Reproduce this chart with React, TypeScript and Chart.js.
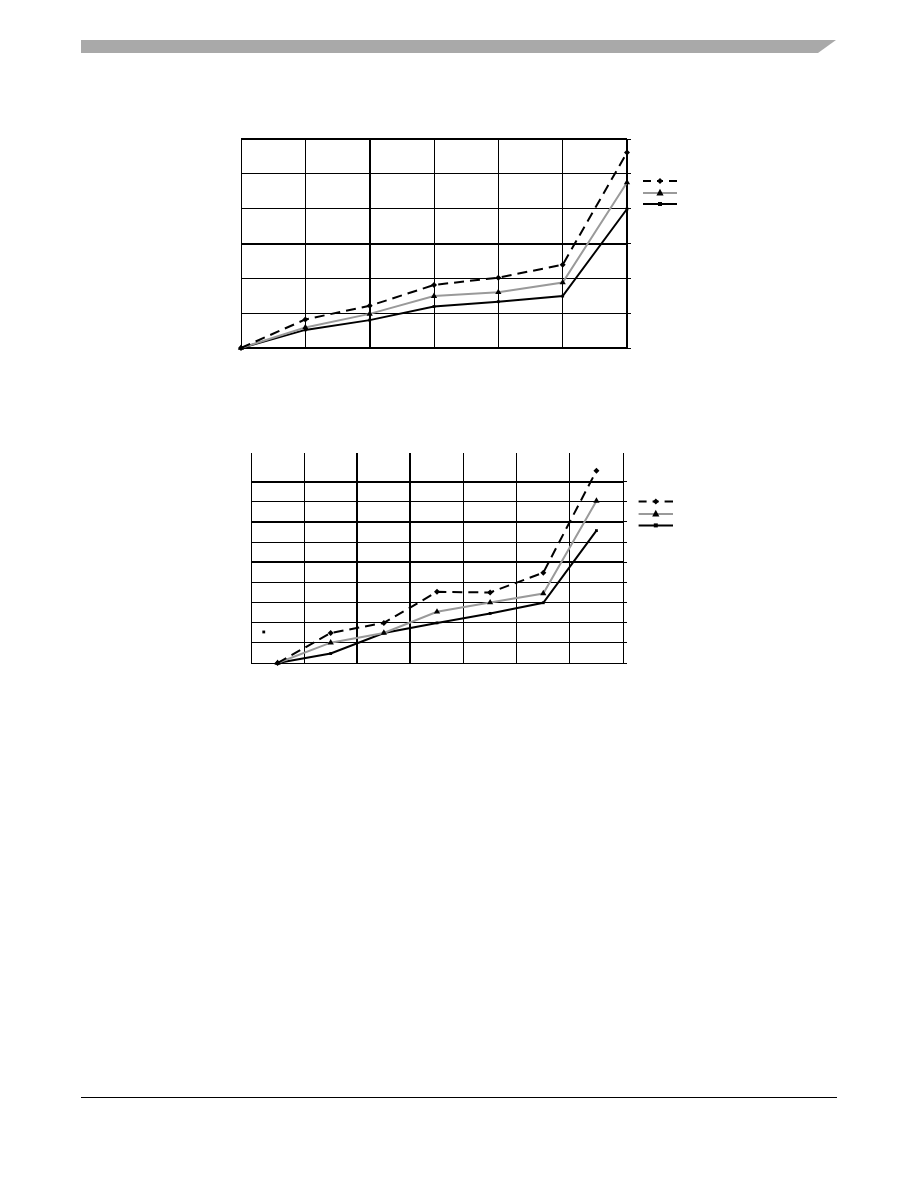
import React, { useEffect, useRef } from "react";
import { Chart, registerables } from "chart.js";

Chart.register(...registerables);

// ---------- Chart 1 data (7 points on grid lines, y in grid units 0..6) ----------
const categories1 = ["0", "1", "2", "3", "4", "5", "6"];
const series1Dashed = [0, 0.82, 1.21, 1.81, 2.02, 2.39, 5.61];
const series1Gray = [0, 0.59, 0.98, 1.49, 1.6, 1.88, 4.75];
const series1Black = [0, 0.52, 0.8, 1.19, 1.33, 1.49, 3.99];
const yMax1 = 6;

// ---------- Chart 2 data (7 points centred in 7 columns, y in grid units) ----------
const categories2 = [0.5, 1.5, 2.5, 3.5, 4.5, 5.5, 6.5];
const series2Dashed = [0, 1.49, 1.99, 3.53, 3.5, 4.48, 9.54];
const series2Gray = [0, 1.01, 1.49, 2.54, 3.0, 3.45, 8.04];
const series2Black = [0, 0.47, 1.49, 1.99, 2.46, 2.99, 6.57];
const strayPointX = [0.24];
const strayPointY = [1.54];
const xMax2 = 7;
const yMax2 = 10.42;

type LegendOpts = { dx1: number; dx2: number; dys: number[] };

function drawMarker(ctx: CanvasRenderingContext2D, style: string, x: number, y: number, r: number) {
  ctx.save();
  ctx.fillStyle = "#000";
  ctx.beginPath();
  if (style === "rectRot") {
    ctx.moveTo(x, y - r);
    ctx.lineTo(x + r, y);
    ctx.lineTo(x, y + r);
    ctx.lineTo(x - r, y);
  } else if (style === "triangle") {
    ctx.moveTo(x, y - r * 1.2);
    ctx.lineTo(x + r, y + r * 0.7);
    ctx.lineTo(x - r, y + r * 0.7);
  } else {
    ctx.rect(x - r, y - r, r * 2, r * 2);
  }
  ctx.closePath();
  ctx.fill();
  ctx.restore();
}

const sampleLegend = {
  id: "sampleLegend",
  afterDraw(chart: any, _args: any, opts: LegendOpts) {
    const { ctx, chartArea } = chart;
    const x1 = chartArea.right + opts.dx1;
    const x2 = chartArea.right + opts.dx2;
    opts.dys.forEach((dy, i) => {
      const ds = chart.data.datasets[i];
      const y = chartArea.top + dy;
      ctx.save();
      ctx.strokeStyle = ds.borderColor;
      ctx.lineWidth = ds.borderWidth;
      ctx.setLineDash(ds.borderDash ? [8, 6, 6, 6, 10] : []);
      ctx.beginPath();
      ctx.moveTo(x1, y);
      ctx.lineTo(x2, y);
      ctx.stroke();
      ctx.restore();
      drawMarker(ctx, ds.pointStyle, (x1 + x2) / 2, y, ds.pointRadius);
    });
  },
};

function seriesStyles(label: string, kind: "dashed" | "gray" | "black") {
  if (kind === "dashed")
    return {
      label,
      borderColor: "#000000",
      backgroundColor: "#000000",
      borderWidth: 2,
      borderDash: [10, 6],
      pointStyle: "rectRot",
      pointRadius: 3,
      pointBorderWidth: 0,
      tension: 0,
      clip: false as any,
    };
  if (kind === "gray")
    return {
      label,
      borderColor: "#9a9a9a",
      backgroundColor: "#000000",
      borderWidth: 2,
      pointStyle: "triangle",
      pointRadius: 3.6,
      pointBorderWidth: 0,
      pointBackgroundColor: "#000000",
      tension: 0,
      clip: false as any,
    };
  return {
    label,
    borderColor: "#000000",
    backgroundColor: "#000000",
    borderWidth: 2,
    pointStyle: "rect",
    pointRadius: 2,
    pointBorderWidth: 0,
    tension: 0,
    clip: false as any,
  };
}

function ChartOne() {
  const ref = useRef<HTMLCanvasElement>(null);
  useEffect(() => {
    if (!ref.current) return;
    const chart = new Chart(ref.current, {
      type: "line",
      data: {
        labels: categories1,
        datasets: [
          { ...seriesStyles("A", "dashed"), data: series1Dashed },
          { ...seriesStyles("B", "gray"), data: series1Gray },
          { ...seriesStyles("C", "black"), data: series1Black },
        ] as any,
      },
      options: {
        responsive: false,
        animation: false,
        events: [],
        layout: { autoPadding: false, padding: { left: 20, top: 20, bottom: 20, right: 70 } },
        plugins: {
          legend: { display: false },
          tooltip: { enabled: false },
          sampleLegend: { dx1: 16, dx2: 50, dys: [42, 54, 65] },
        } as any,
        scales: {
          x: {
            type: "category",
            offset: false,
            border: { display: false },
            ticks: { display: false },
            grid: {
              color: "#000",
              drawTicks: false,
              lineWidth: (c: any) => (c.index === 2 || c.index === 6 ? 2 : 1),
            },
          },
          y: {
            type: "linear",
            min: 0,
            max: yMax1,
            border: { display: false },
            ticks: { display: false, stepSize: 1 },
            grid: {
              color: "#000",
              drawTicks: false,
              lineWidth: (c: any) => (c.tick && (c.tick.value === 3 || c.tick.value === 6 || c.tick.value === 0) ? 2 : 1),
            },
          },
          y2: {
            type: "linear",
            position: "right",
            min: 0,
            max: yMax1,
            border: { display: false },
            ticks: { display: false, stepSize: 1 },
            grid: { color: "#000", drawOnChartArea: false, drawTicks: true, tickLength: 4, lineWidth: 1 },
          },
        },
      } as any,
      plugins: [sampleLegend as any],
    });
    return () => chart.destroy();
  }, []);
  return <canvas ref={ref} width={480} height={249} style={{ position: "absolute", left: 221, top: 119 }} />;
}

function ChartTwo() {
  const ref = useRef<HTMLCanvasElement>(null);
  useEffect(() => {
    if (!ref.current) return;
    const onlyIntegers = (scale: any) => {
      scale.ticks = scale.ticks.filter((t: any) => Number.isInteger(t.value));
    };
    const chart = new Chart(ref.current, {
      type: "line",
      data: {
        datasets: [
          { ...seriesStyles("A", "dashed"), data: categories2.map((x, i) => ({ x, y: series2Dashed[i] })) },
          { ...seriesStyles("B", "gray"), data: categories2.map((x, i) => ({ x, y: series2Gray[i] })) },
          { ...seriesStyles("C", "black"), data: categories2.map((x, i) => ({ x, y: series2Black[i] })) },
          {
            ...seriesStyles("D", "black"),
            showLine: false,
            data: strayPointX.map((x, i) => ({ x, y: strayPointY[i] })),
          },
        ] as any,
      },
      options: {
        responsive: false,
        animation: false,
        events: [],
        layout: { autoPadding: false, padding: { left: 20, top: 20, bottom: 20, right: 84 } },
        plugins: {
          legend: { display: false },
          tooltip: { enabled: false },
          sampleLegend: { dx1: 15.6, dx2: 50, dys: [48.4, 61, 72.4] },
        } as any,
        scales: {
          x: {
            type: "linear",
            min: 0,
            max: xMax2,
            border: { display: false },
            ticks: { display: false, stepSize: 1 },
            grid: {
              color: "#000",
              drawTicks: false,
              lineWidth: (c: any) => (c.tick && (c.tick.value === 2 || c.tick.value === 3) ? 2 : 1),
            },
          },
          y: {
            type: "linear",
            min: 0,
            max: yMax2,
            afterBuildTicks: onlyIntegers,
            border: { display: false },
            ticks: { display: false, stepSize: 1 },
            grid: {
              color: "#000",
              drawTicks: false,
              lineWidth: (c: any) =>
                c.tick && (c.tick.value === 5 || c.tick.value === 7 || c.tick.value === 9) ? 2 : 1,
            },
          },
          y2: {
            type: "linear",
            position: "right",
            min: 0,
            max: yMax2,
            afterBuildTicks: onlyIntegers,
            border: { display: false },
            ticks: { display: false, stepSize: 1 },
            grid: { color: "#000", drawOnChartArea: false, drawTicks: true, tickLength: 4, lineWidth: 1 },
          },
        },
      } as any,
      plugins: [sampleLegend as any],
    });
    return () => chart.destroy();
  }, []);
  return <canvas ref={ref} width={480} height={250} style={{ position: "absolute", left: 231, top: 433 }} />;
}

export default function App() {
  return (
    <div style={{ position: "absolute", left: 0, top: 0, width: 918, height: 1188, background: "#fff", overflow: "hidden" }}>
      <div
        style={{
          position: "absolute",
          left: 81,
          top: 40,
          width: 755,
          height: 13,
          background: "#a9a9a9",
          clipPath: "polygon(0 0, 100% 0, calc(100% - 18px) 100%, 0 100%)",
        }}
      />
      <ChartOne />
      <ChartTwo />
      <div style={{ position: "absolute", left: 81, top: 1097, width: 756, height: 1, background: "#000" }} />
    </div>
  );
}
